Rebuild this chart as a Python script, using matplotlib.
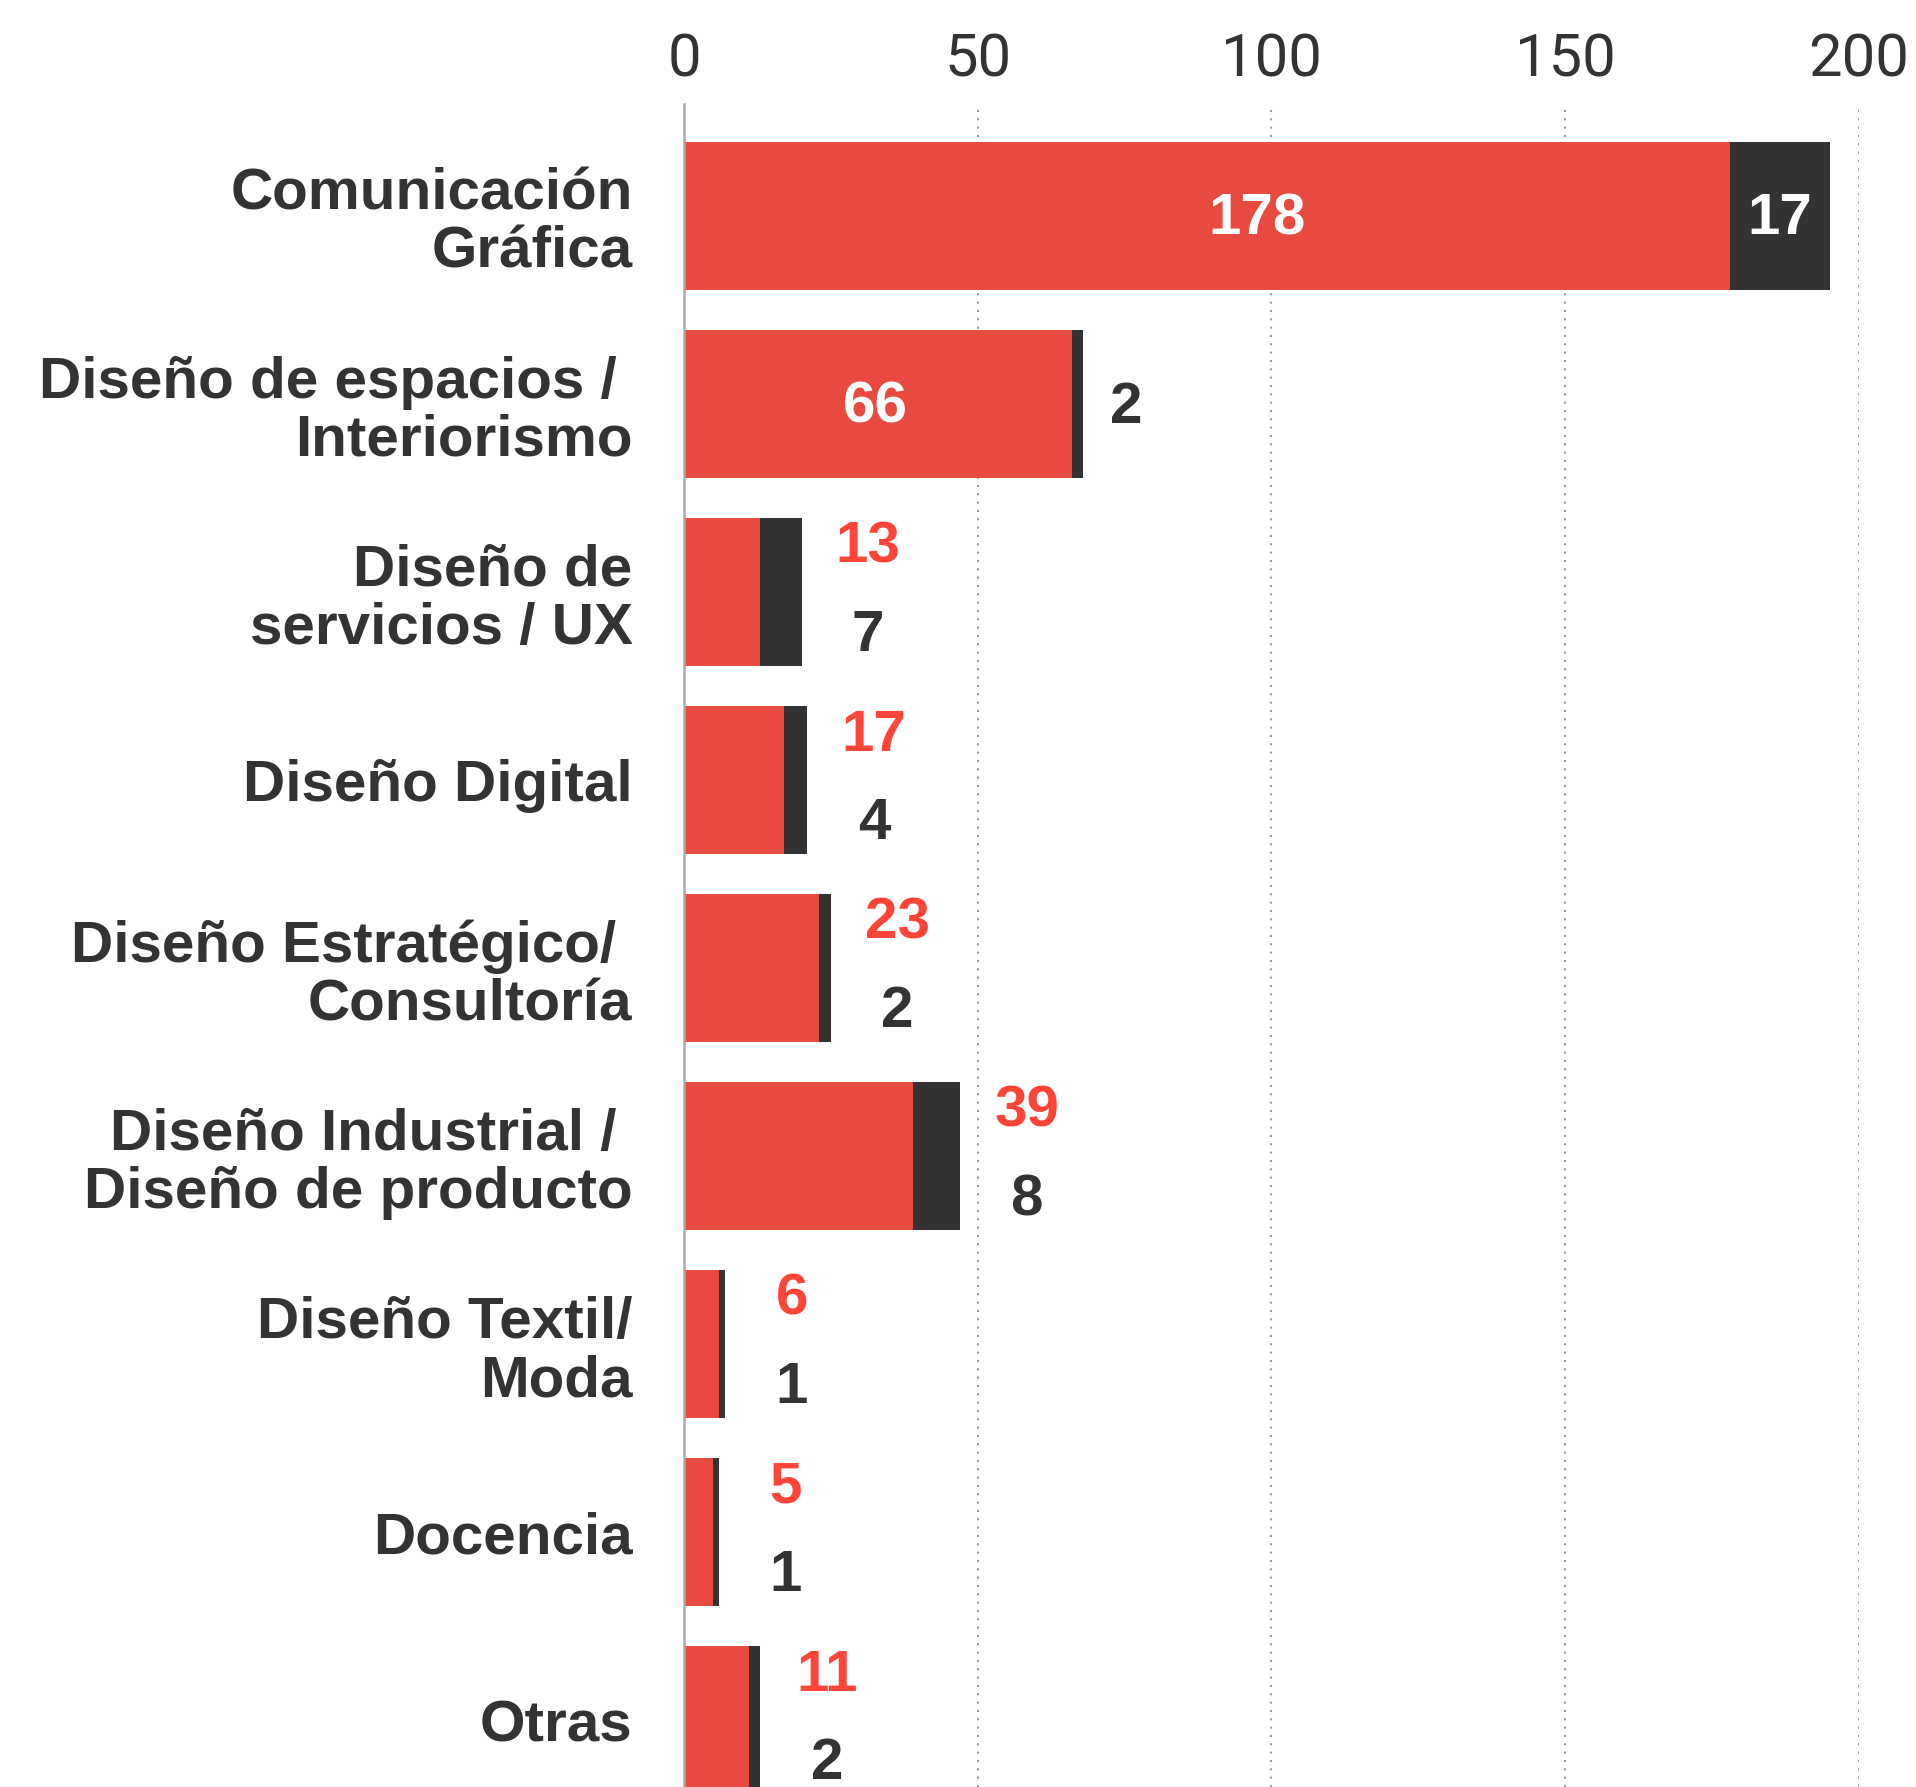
import matplotlib
matplotlib.use("Agg")
import matplotlib.pyplot as plt
import matplotlib.transforms as mtransforms

# data
categories = [
    "Comunicación\nGráfica",
    "Diseño de espacios / \nInteriorismo",
    "Diseño de\nservicios / UX",
    "Diseño Digital",
    "Diseño Estratégico/ \nConsultoría",
    "Diseño Industrial / \nDiseño de producto",
    "Diseño Textil/\nModa",
    "Docencia",
    "Otras",
]
red_vals = [178, 66, 13, 17, 23, 39, 6, 5, 11]
dark_vals = [17, 2, 7, 4, 2, 8, 1, 1, 2]
xticks = [0, 50, 100, 150, 200]

RED = "#e84a40"
RED_TXT = "#ff4438"
DARK = "#333333"

fig = plt.figure(figsize=(19.16, 17.87), dpi=100)
ax = fig.add_axes([0.357, 0.0, 0.9702 - 0.357, 0.942])

y = list(range(len(categories)))
ax.barh(y, red_vals, height=0.787, color=RED, zorder=2)
ax.barh(y, dark_vals, left=red_vals, height=0.787, color=DARK, zorder=2)

ax.set_xlim(0, 200)
ax.set_ylim(8.356, -0.596)

# labels on / next to the bars
lab_font = dict(family=["Liberation Sans", "DejaVu Sans"], fontweight="bold", fontsize=42)
for i, (r, d) in enumerate(zip(red_vals, dark_vals)):
    total = r + d
    if r > 100:
        ax.text(total / 2, i + 0.02, str(r), color="white", ha="center", va="center", zorder=3, **lab_font)
        ax.text(r + d / 2, i + 0.02, str(d), color="white", ha="center", va="center", zorder=3, **lab_font)
    elif r > 50:
        ax.text(total / 2 - 1.5, i + 0.02, str(r), color="white", ha="center", va="center", zorder=3, **lab_font)
        ax.annotate(str(d), (total, i + 0.02), xytext=(31, 0), textcoords="offset points",
                    color=DARK, ha="center", va="center", **lab_font)
    else:
        ax.annotate(str(r), (total, i - 0.235), xytext=(48, 0), textcoords="offset points",
                    color=RED_TXT, ha="center", va="center", **lab_font)
        ax.annotate(str(d), (total, i + 0.235), xytext=(48, 0), textcoords="offset points",
                    color=DARK, ha="center", va="center", **lab_font)

# axis styling
ax.set_yticks(y)
ax.set_yticklabels(categories, fontsize=42, fontweight="bold", color=DARK,
                   family=["Liberation Sans", "DejaVu Sans"], linespacing=1.1,
                   multialignment="right")
shift = mtransforms.ScaledTranslation(0, -0.07, fig.dpi_scale_trans)
for lbl in ax.get_yticklabels():
    lbl.set_transform(lbl.get_transform() + shift)

ax.set_xticks(xticks)
ax.set_xticklabels([str(t) for t in xticks], fontsize=43, color=DARK,
                   family=["Roboto", "DejaVu Sans"], fontweight="normal")
ax.xaxis.tick_top()
ax.tick_params(axis="x", length=0, pad=11)
ax.tick_params(axis="y", length=0, pad=37)

for s in ["top", "right", "bottom"]:
    ax.spines[s].set_visible(False)
ax.spines["left"].set_color("#aaaaaa")
ax.spines["left"].set_linewidth(1.8)
ax.spines["left"].set_zorder(4)

ax.grid(axis="x", linestyle=(0, (1, 3)), color="#999999", linewidth=1.5, zorder=0)
ax.grid(axis="y", visible=False)
ax.xaxis.get_gridlines()[0].set_visible(False)

fig.savefig("out.png", dpi=100)
